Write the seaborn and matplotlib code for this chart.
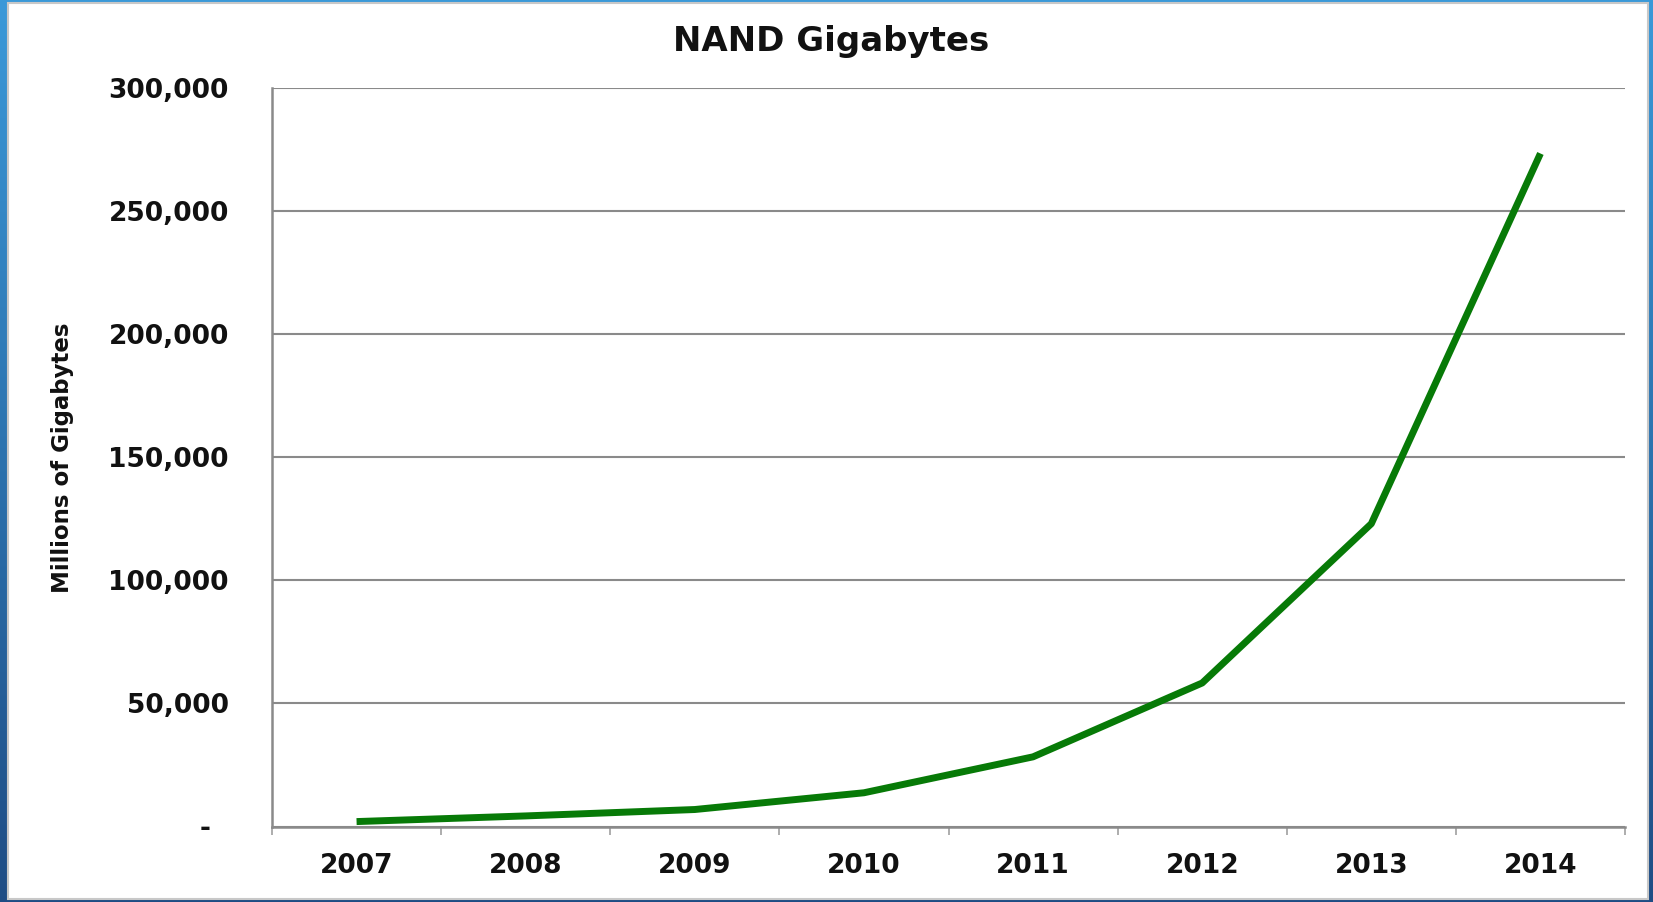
import numpy as np
import pandas as pd
import matplotlib
matplotlib.use("Agg")
import matplotlib.pyplot as plt
from matplotlib.patches import Rectangle
from matplotlib.ticker import FixedLocator, FuncFormatter
import seaborn as sns

# NAND flash shipments, millions of gigabytes
years = ["2007", "2008", "2009", "2010", "2011", "2012", "2013", "2014"]
gigabytes = [2000, 4300, 6900, 13700, 28300, 58300, 123000, 273400]
y_ticks = [0, 50000, 100000, 150000, 200000, 250000, 300000]

title = "NAND Gigabytes"
y_label = "Millions of Gigabytes"

sns.set_theme(style="white")
plt.rcParams["font.family"] = ["DejaVu Sans"]

W, H = 1653, 902
fig = plt.figure(figsize=(W / 100, H / 100), dpi=100)

# slide backdrop: blue gradient behind a white panel
grad = np.linspace(0, 1, H)[:, None] * np.ones((1, W))
top_c = np.array([0.23, 0.60, 0.85])
bot_c = np.array([0.12, 0.30, 0.52])
img = top_c[None, None, :] * (1 - grad[..., None]) + bot_c[None, None, :] * grad[..., None]
fig.figimage(img, xo=0, yo=0, origin="upper", zorder=0)
fig.patches.append(Rectangle((8 / W, 3 / H), (1648 - 8) / W, (899 - 3) / H,
                             transform=fig.transFigure, facecolor="white",
                             edgecolor="#c8c8c8", linewidth=1.5, zorder=1))

ax = fig.add_axes([272 / W, 75.5 / H, (1625 - 272) / W, (826.5 - 88) / H])
ax.set_facecolor("none")
ax.set_zorder(2)

df = pd.DataFrame({"pos": np.arange(len(years)), "value": gigabytes})
sns.lineplot(data=df, x="pos", y="value", ax=ax, color="#077a07",
             linewidth=5.0, zorder=3)
for ln in ax.lines:
    ln.set_solid_capstyle("butt")
    ln.set_solid_joinstyle("round")

ax.set_xlim(-0.5, len(years) - 0.5)
ax.set_ylim(0, 300000)

# y axis
ax.yaxis.set_major_locator(FixedLocator(y_ticks))
ax.yaxis.set_major_formatter(FuncFormatter(lambda v, p: "-  " if v == 0 else f"{int(v):,}"))
ax.grid(axis="y", color="#8a8a8a", linewidth=1.5)
ax.grid(axis="x", visible=False)
ax.tick_params(axis="y", which="major", direction="out", length=12, width=1.5,
               color="#8a8a8a", pad=19, labelsize=19, labelcolor="#111111")

# x axis: boundary ticks, labels centred on categories
ax.xaxis.set_major_locator(FixedLocator(np.arange(len(years) + 1) - 0.5))
ax.xaxis.set_major_formatter(FuncFormatter(lambda v, p: ""))
ax.xaxis.set_minor_locator(FixedLocator(np.arange(len(years))))
ax.xaxis.set_minor_formatter(FuncFormatter(lambda v, p: years[int(round(v))]))
ax.tick_params(axis="x", which="major", direction="out", length=6, width=1.2,
               color="#a0a0a0", bottom=True)
ax.tick_params(axis="x", which="minor", length=0, pad=19, labelsize=19,
               labelcolor="#111111", bottom=True)
for lab in ax.get_xticklabels(minor=True) + ax.get_yticklabels():
    lab.set_fontweight("bold")

for side in ["top", "right"]:
    ax.spines[side].set_visible(False)
for side in ["left", "bottom"]:
    ax.spines[side].set_color("#8a8a8a")
    ax.spines[side].set_linewidth(1.8)

ax.set_xlabel("")
ax.set_ylabel("")

fig.text(831 / W, 1 - 42 / H, title, ha="center", va="center",
         fontsize=24.5, fontweight="bold", color="#111111", zorder=4)
fig.text(63 / W, 1 - 458 / H, y_label, ha="center", va="center", rotation=90,
         fontsize=16.5, fontweight="bold", color="#111111", zorder=4)

fig.savefig("out.png", dpi=100)
